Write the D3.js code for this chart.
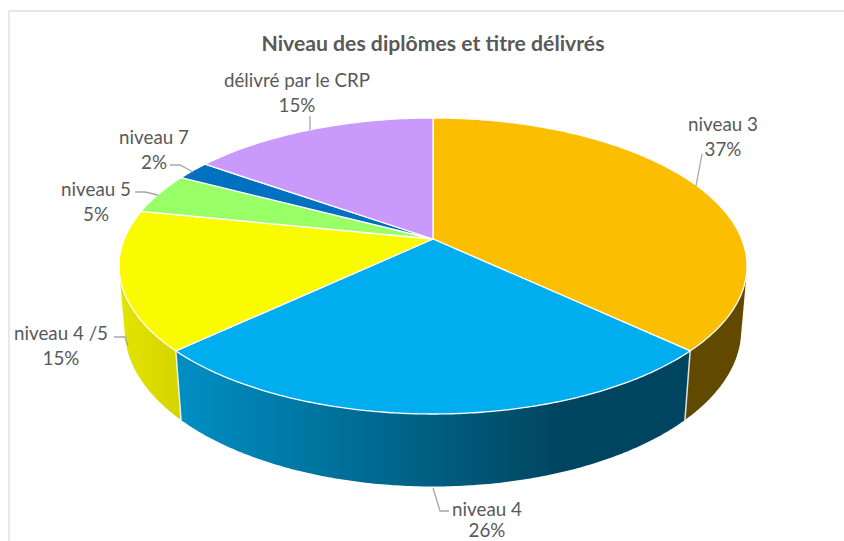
<!DOCTYPE html>
<html>
<head>
<meta charset="utf-8">
<script src="https://cdn.jsdelivr.net/npm/d3@7"></script>
<style>
html,body{margin:0;padding:0;background:#fff;overflow:hidden}
svg{display:block}
text{font-family:Lato,"Open Sans",sans-serif;fill:#595959}
</style>
</head>
<body>
<svg id="c" width="844" height="541"></svg>
<script>
const chartTitle = "Niveau des diplômes et titre délivrés";
const categories = ["niveau 3","niveau 4","niveau 4 /5","niveau 5","niveau 7","délivré par le CRP"];
const values = [37,26,15.2,4.5,2.1,15.2];
const topColors = ["#FCBE00","#00AEEF","#FAFA00","#99FF66","#0070C0","#C999FC"];
const sideStops = [
  [[690,"#614A00"],[747,"#614A00"]],
  [[175,"#008FC4"],[430,"#005F82"],[560,"#00455F"],[690,"#00455F"]],
  [[119,"#E4E400"],[180,"#D4D400"]],
  [[0,"#7ACC52"],[1,"#7ACC52"]],
  [[0,"#005A9A"],[1,"#005A9A"]],
  [[0,"#A17ACA"],[1,"#A17ACA"]]
];

const labelLayout = [
  {x:723,y:[123.5,148],leader:[[702,154],[696,186]]},
  {x:487,y:[508,529.5],leader:[[433,488],[440,511],[449,511]]},
  {x:61,y:[332,357],leader:[[114,337],[125,337],[128,346]]},
  {x:96,y:[188,213],leader:[[135,192],[145,192],[158,195]]},
  {x:154,y:[136,161],leader:[[170,165],[180,165],[193,172]]},
  {x:297,y:[79,104],leader:[[310,116],[310,130]]}
];

// Perspective view of a tilted disc: u,v on the unit circle, z=0 top face, z=1 bottom face
const view = {cx:433,cy:239,A:308.7,b:-99.5,c:68,k:0.1824,m:0.018};
function project(t,z){
  const u=Math.sin(t),v=Math.cos(t),w=1+view.k*v+view.m*z;
  return [view.cx+view.A*u/w,(view.cy+view.b*v+view.c*z)/w];
}
function arcPts(a0,a1,z){
  const n=Math.max(2,Math.ceil((a1-a0)/0.01));
  return d3.range(n+1).map(i=>project(a0+(a1-a0)*i/n,z));
}

const svg=d3.select("#c");
const defs=svg.append("defs");
svg.append("rect").attr("width",844).attr("height",541).attr("fill","#fff");
svg.append("rect").attr("x",9).attr("y",11).attr("width",900).attr("height",600)
  .attr("fill","#fff").attr("stroke","#D9D9D9").attr("stroke-width",1.2);

const arcs=d3.pie().sort(null).value(d=>d)(values);
const line=d3.line();

arcs.forEach((d,i)=>{
  const id="side"+i, st=sideStops[i], x0=st[0][0], x1=st[st.length-1][0];
  const g=defs.append("linearGradient").attr("id",id).attr("gradientUnits","userSpaceOnUse")
    .attr("x1",x0).attr("x2",x1).attr("y1",0).attr("y2",0);
  st.forEach(s=>g.append("stop").attr("offset",(s[0]-x0)/(x1-x0)).attr("stop-color",s[1]));
});

// Side walls: hull of both rims gives the straight silhouette; top faces cover the rest
[5,4,3,0,2,1].forEach(i=>{
  const d=arcs[i];
  const hull=d3.polygonHull(arcPts(d.startAngle,d.endAngle,0).concat(arcPts(d.startAngle,d.endAngle,1)));
  svg.append("path").attr("d",line(hull)+"Z").attr("fill","url(#side"+i+")");
});
// White separators on the side wall
[arcs[0].endAngle,arcs[1].endAngle].forEach(t=>{
  svg.append("path").attr("d",line([project(t,0),project(t,1)]))
    .attr("stroke","#fff").attr("stroke-opacity",0.85).attr("stroke-width",1.5).attr("fill","none");
});

// Top faces
arcs.forEach((d,i)=>{
  const pts=[[view.cx,view.cy]].concat(arcPts(d.startAngle,d.endAngle,0));
  svg.append("path").attr("d",line(pts)+"Z").attr("fill",topColors[i])
    .attr("stroke","#fff").attr("stroke-width",1.3).attr("stroke-linejoin","round");
});

// Title
svg.append("text").attr("x",433).attr("y",43).attr("text-anchor","middle")
  .attr("dominant-baseline","central").attr("font-size",21.2).attr("font-weight",700)
  .text(chartTitle);

// Labels and leaders
const pctFormat=v=>Math.round(v)+"%";
categories.forEach((c,i)=>{
  const L=labelLayout[i];
  svg.append("path").attr("d",line(L.leader)).attr("fill","none")
    .attr("stroke","#A6A6A6").attr("stroke-width",1.3);
  [c,pctFormat(values[i])].forEach((s,j)=>{
    svg.append("text").attr("x",L.x).attr("y",L.y[j]).attr("text-anchor","middle")
      .attr("dominant-baseline","central").attr("font-size",18.8).text(s);
  });
});
</script>
</body>
</html>
